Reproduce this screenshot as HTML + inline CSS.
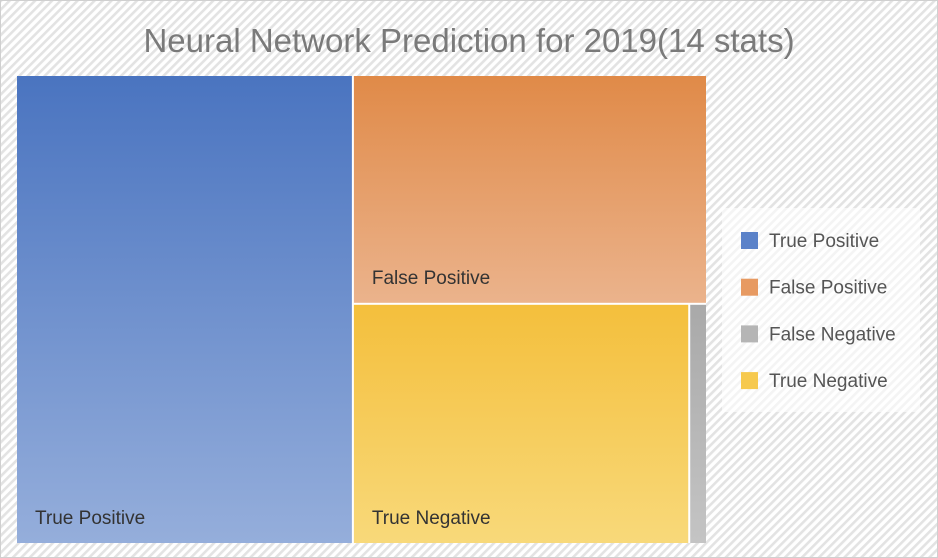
<!DOCTYPE html>
<html><head><meta charset="utf-8"><style>
body{margin:0;background:#fff;}
svg{display:block;font-family:"Liberation Sans",sans-serif;}
</style></head><body>
<svg id="chart" width="938" height="558">
<defs>
<pattern id="hatch" width="6" height="6" patternUnits="userSpaceOnUse" patternTransform="rotate(45)">
<rect width="6" height="6" fill="#fff"/><rect width="2.6" height="6" fill="#e3e3e3"/>
</pattern>
<linearGradient id="gTP" x1="0" y1="0" x2="0" y2="1"><stop offset="0" stop-color="#4a74c0"/><stop offset="1" stop-color="#95aedb"/></linearGradient>
<linearGradient id="gFP" x1="0" y1="0" x2="0" y2="1"><stop offset="0" stop-color="#e08a48"/><stop offset="1" stop-color="#ebb38c"/></linearGradient>
<linearGradient id="gFN" x1="0" y1="0" x2="0" y2="1"><stop offset="0" stop-color="#a9a9a9"/><stop offset="1" stop-color="#c4c4c4"/></linearGradient>
<linearGradient id="gTN" x1="0" y1="0" x2="0" y2="1"><stop offset="0" stop-color="#f4bf3c"/><stop offset="1" stop-color="#f8d97a"/></linearGradient>
</defs>
<rect x="0.5" y="0.5" width="937" height="557" fill="url(#hatch)" stroke="#d0d0d0"/>
<text x="469" y="52" text-anchor="middle" font-size="33" fill="#7a7a7a">Neural Network Prediction for 2019(14 stats)</text>
<rect x="17" y="76" width="689" height="467" fill="#fff"/>
<g id="tiles"></g>
<rect x="722" y="208" width="198" height="204" fill="#fff" opacity="0.6"/>
<g id="legend"></g>
</svg>
<script>
const categories=["True Positive","False Positive","True Negative","False Negative"];
const values=[39,20,20,1];
const fills=["url(#gTP)","url(#gFP)","url(#gTN)","url(#gFN)"];
const legendOrder=["True Positive","False Positive","False Negative","True Negative"];
const legendColors=["#5b82c9","#e79a62","#b5b5b5","#f6c94e"];
const NS="http://www.w3.org/2000/svg";
const X0=17,Y0=76,W=689,H=467,G=2;
const total=values.reduce((a,b)=>a+b,0);
const tiles=document.getElementById('tiles');
function rect(x,y,w,h,i,labelPos){
  const r=document.createElementNS(NS,'rect');
  r.setAttribute('x',x);r.setAttribute('y',y);r.setAttribute('width',Math.max(0,w));r.setAttribute('height',Math.max(0,h));
  r.setAttribute('fill',fills[i]);
  
  
  tiles.appendChild(r);
  if(labelPos){
    const t=document.createElementNS(NS,'text');
    t.setAttribute('x',x+18);t.setAttribute('y',y+h-19);
    t.setAttribute('font-size','19');t.setAttribute('fill','#333');
    t.textContent=categories[i];
    
    
    tiles.appendChild(t);
  }
}
const w1=W*values[0]/total;
rect(X0,Y0,w1-G/2,H,0,true);
const x2=X0+w1+G/2, w2=W-w1-G/2;
const rest=values[1]+values[2]+values[3];
const h1=H*values[1]/rest;
rect(x2,Y0,w2,h1-G/2,1,true);
const y3=Y0+h1+G/2,h3=H-h1-G/2;
const wTN=w2*values[2]/(values[2]+values[3]);
rect(x2,y3,wTN-G/2,h3,2,true);
rect(x2+wTN+G/2,y3,w2-wTN-G/2,h3,3,false);
const lg=document.getElementById('legend');
legendOrder.forEach((c,i)=>{
  const y=240+i*46.7;
  const s=document.createElementNS(NS,'rect');
  s.setAttribute('x',741);s.setAttribute('y',y-8);s.setAttribute('width',17);s.setAttribute('height',17);s.setAttribute('fill',legendColors[i]);
  
  
  lg.appendChild(s);
  const t=document.createElementNS(NS,'text');
  t.setAttribute('x',769);t.setAttribute('y',y+7);t.setAttribute('font-size','19');t.setAttribute('fill','#555');
  t.textContent=c;
  
  
  lg.appendChild(t);
});
</script>
</body></html>
